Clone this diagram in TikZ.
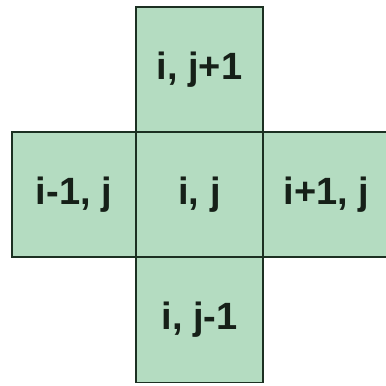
\documentclass[tikz,border=0pt]{standalone}
\usepackage{fontspec}
\setmainfont{Liberation Sans}
\definecolor{cellfill}{RGB}{180,220,193}
\definecolor{cellline}{RGB}{28,48,34}
\definecolor{celltext}{RGB}{22,32,24}
\begin{document}
\begin{tikzpicture}[x=1pt,y=-1pt,
  cell/.style={draw=cellline, fill=cellfill, line width=1.4pt, rectangle,
    inner sep=0pt, text=celltext, font=\fontsize{38}{40}\selectfont\bfseries},
  sq/.style={cell, minimum width=127pt, minimum height=125pt}]
\useasboundingbox (0,0) rectangle (386,386);
\clip (0,0) rectangle (386,386);
\node[sq] (top) at (199.5,69.5) {i, j+1};
\node[sq] (bottom) at (199.5,320) {i, j-1};
\node[cell, minimum width=124pt, minimum height=125pt] (left) at (74,194.5) {i-1, j};
\node[sq] (right) at (326.5,194.5) {i+1, j};
\node[sq] (center) at (199.5,194.5) {i, j};
\end{tikzpicture}
\end{document}
